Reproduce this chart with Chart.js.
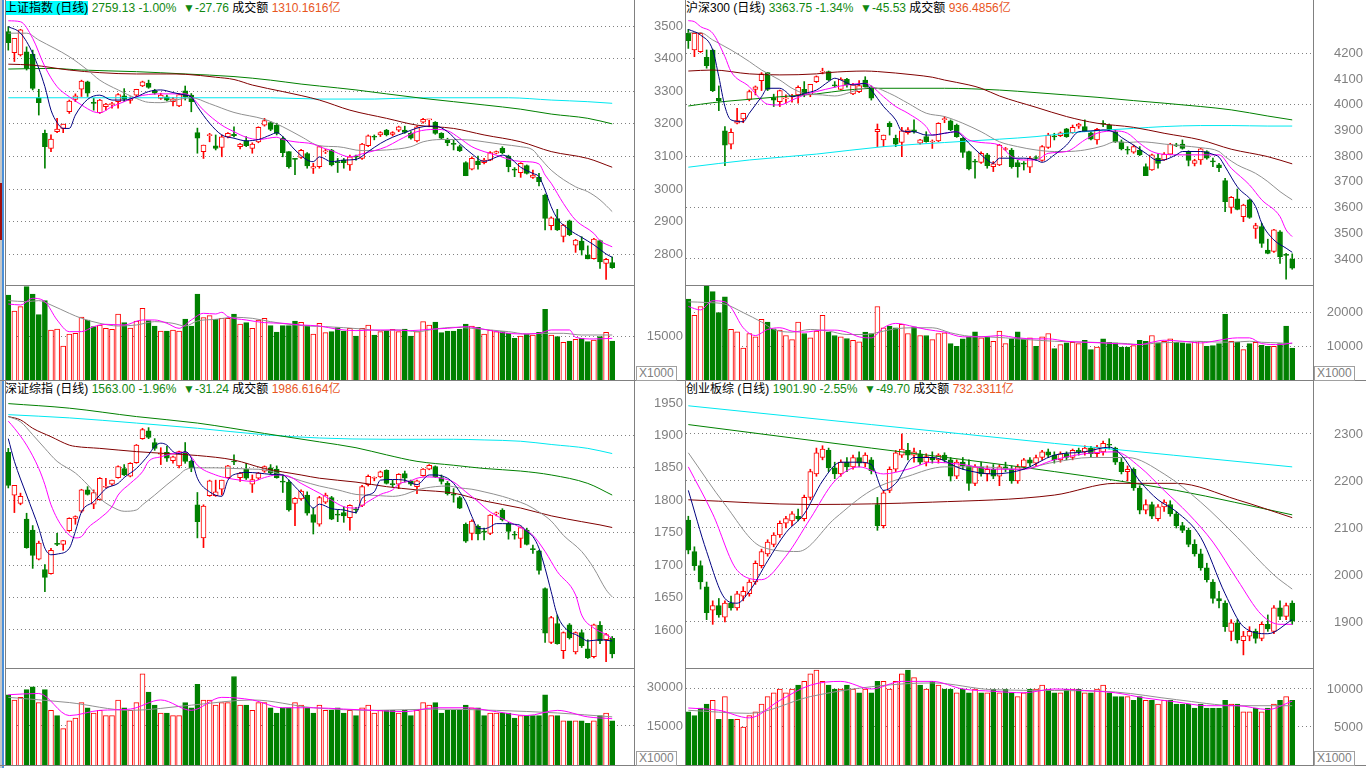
<!DOCTYPE html>
<html lang="zh-CN">
<head>
<meta charset="UTF-8">
<title>日线行情</title>
<style>
body { margin: 0; background: #fff; width: 1366px; height: 768px; overflow: hidden; position: relative;
  font-family: Arial, "Liberation Sans", "Noto Sans CJK SC", sans-serif; }
canvas { position: absolute; }
.head { position: absolute; font-size: 12px; line-height: 16px; height: 16px; white-space: nowrap; color: #000; }
.head .sel { background: #00ffff; }
.head .g { color: #118811; }
.head .o { color: #e8561e; }
.ln { position: absolute; background: #808080; }
.unit { position: absolute; border: 1px solid #a0a0a0; color: #808080; font-size: 12px; line-height: 13px; padding: 0 2px; background: #fff; }
</style>
</head>
<body>
<div class="head" style="left:5px;top:0"><span class="sel">上证指数 (日线)</span> <span class="g">2759.13 -1.00%&nbsp; ▼-27.76</span> 成交额 <span class="o">1310.1616亿</span></div>
<div class="head" style="left:686px;top:0">沪深300 (日线) <span class="g">3363.75 -1.34%&nbsp; ▼-45.53</span> 成交额 <span class="o">936.4856亿</span></div>
<div class="head" style="left:5px;top:381px">深证综指 (日线) <span class="g">1563.00 -1.96%&nbsp; ▼-31.24</span> 成交额 <span class="o">1986.6164亿</span></div>
<div class="head" style="left:686px;top:381px">创业板综 (日线) <span class="g">1901.90 -2.55%&nbsp; ▼-49.70</span> 成交额 <span class="o">732.3311亿</span></div>

<canvas id="c1p" width="681" height="268" style="left:5px;top:17px"></canvas>
<canvas id="c1v" width="681" height="94" style="left:5px;top:286px"></canvas>
<canvas id="c2p" width="680" height="268" style="left:686px;top:17px"></canvas>
<canvas id="c2v" width="680" height="94" style="left:686px;top:286px"></canvas>
<canvas id="c3p" width="681" height="271" style="left:5px;top:397px"></canvas>
<canvas id="c3v" width="681" height="96" style="left:5px;top:669px"></canvas>
<canvas id="c4p" width="680" height="271" style="left:686px;top:397px"></canvas>
<canvas id="c4v" width="680" height="96" style="left:686px;top:669px"></canvas>

<div class="ln" style="left:0;top:0;width:2px;height:768px;background:#c8c8c8"></div>
<div class="ln" style="left:2px;top:0;width:2px;height:768px;background:#4a90d9"></div>
<div class="ln" style="left:0;top:183px;width:2px;height:57px;background:#a01010"></div>
<div class="ln" style="left:5px;top:0;width:1px;height:766px"></div>
<div class="ln" style="left:634px;top:0;width:1px;height:766px"></div>
<div class="ln" style="left:685px;top:0;width:1px;height:766px"></div>
<div class="ln" style="left:1313px;top:0;width:1px;height:766px"></div>
<div class="ln" style="left:5px;top:285px;width:629px;height:1px"></div>
<div class="ln" style="left:686px;top:285px;width:627px;height:1px"></div>
<div class="ln" style="left:0;top:380px;width:1366px;height:1px"></div>
<div class="ln" style="left:5px;top:668px;width:629px;height:1px"></div>
<div class="ln" style="left:686px;top:668px;width:627px;height:1px"></div>
<div class="ln" style="left:0;top:765px;width:1366px;height:1px"></div>
<div class="unit" style="left:636px;top:366px">X1000</div>
<div class="unit" style="left:1314px;top:366px">X1000</div>
<div class="unit" style="left:636px;top:751px">X1000</div>
<div class="unit" style="left:1314px;top:751px">X1000</div>

<script src="https://cdn.jsdelivr.net/npm/chart.js@4.4.1/dist/chart.umd.min.js"></script>
<script>
// ---- 上证指数: [open, high, low, close]
const shCandles = [
[3483,3498,3426,3449],[3418,3462,3391,3462],[3411,3490,3408,3488],[3421,3436,3365,3370],[3414,3426,3304,3309],
[3280,3306,3227,3265],[3171,3181,3064,3130],[3125,3166,3115,3153],[3176,3217,3173,3184],[3186,3199,3173,3199],
[3237,3273,3232,3270],[3275,3292,3268,3286],[3306,3334,3284,3331],[3329,3331,3284,3294],[3266,3278,3242,3263],
[3234,3275,3232,3273],[3253,3263,3242,3261],[3259,3266,3248,3262],[3268,3293,3248,3290],[3286,3308,3268,3276],
[3272,3283,3263,3276],[3288,3306,3283,3306],[3316,3331,3314,3329],[3324,3334,3309,3312],[3302,3306,3291,3294],
[3278,3294,3275,3288],[3283,3288,3270,3273],[3268,3281,3255,3277],[3255,3293,3253,3290],[3301,3316,3273,3283],
[3288,3293,3237,3268],[3173,3187,3110,3156],[3115,3135,3094,3135],[3164,3171,3145,3166],[3133,3166,3120,3125],
[3128,3166,3099,3160],[3160,3173,3157,3171],[3168,3191,3160,3164],[3130,3140,3123,3138],[3148,3161,3130,3133],
[3125,3142,3110,3138],[3145,3191,3142,3189],[3196,3217,3193,3210],[3204,3207,3179,3183],[3196,3202,3166,3171],
[3156,3161,3099,3112],[3115,3115,3064,3069],[3093,3094,3044,3091],[3097,3122,3094,3119],[3109,3112,3064,3071],
[3064,3079,3048,3069],[3069,3132,3064,3130],[3114,3122,3109,3117],[3120,3122,3071,3074],[3084,3094,3051,3081],
[3089,3094,3064,3081],[3074,3104,3057,3099],[3100,3104,3089,3098],[3094,3140,3091,3138],[3133,3166,3130,3163],
[3161,3166,3151,3159],[3166,3176,3161,3173],[3181,3183,3163,3166],[3168,3176,3163,3173],[3181,3193,3176,3191],
[3181,3193,3171,3174],[3171,3176,3153,3156],[3148,3193,3145,3191],[3205,3217,3202,3214],[3212,3214,3191,3214],
[3205,3207,3168,3171],[3171,3173,3153,3156],[3150,3156,3133,3142],[3139,3150,3120,3137],[3130,3135,3115,3118],
[3081,3084,3041,3041],[3061,3099,3059,3094],[3086,3101,3061,3075],[3081,3094,3077,3089],[3089,3115,3087,3112],
[3110,3117,3108,3115],[3125,3130,3108,3112],[3101,3104,3053,3069],[3060,3066,3038,3058],[3050,3081,3036,3079],
[3072,3074,3046,3048],[3036,3058,3033,3043],[3036,3048,3010,3023],[2982,2985,2875,2910],[2888,2915,2875,2912],
[2910,2938,2873,2875],[2855,2892,2838,2890],[2903,2905,2857,2860],[2828,2846,2806,2844],[2841,2854,2798,2813],
[2798,2826,2786,2786],[2787,2849,2785,2847],[2842,2844,2757,2777],[2772,2788,2723,2785],[2775,2792,2757,2759]
];
const shVol = [29450,23900,25400,32340,29800,22640,27490,17330,17670,11780,
15940,16170,21830,20790,18480,19060,17900,17560,22870,19870,
18020,20440,24830,20560,18710,16980,16980,17330,16980,21140,
18710,29800,21600,22290,21020,21370,21370,22870,19400,19870,
17900,20790,21370,18830,16630,18830,18830,20440,19980,18830,
15940,19640,16400,16750,18130,16980,17900,15250,17900,19060,
15590,16750,17090,17560,16750,17670,15250,16750,20210,19060,
20100,16400,16980,16980,17560,19400,18710,18250,15940,17330,
16750,16750,16170,14440,15250,15940,15590,16520,24490,15590,
15020,13050,13510,14090,14440,13280,13860,15020,16520,13510];
// moving average lines: [day index, value]
const shMa5 = [[0,3498],[2,3478],[4,3416],[6,3314],[7,3242],[8,3204],[9,3186],[10,3186],[11,3227],[13,3275],[15,3288],[17,3273],[19,3273],[21,3283],[23,3299],[25,3304],[27,3296],[29,3288],[30,3283],[31,3253],[33,3202],[35,3166],[37,3156],[39,3148],[41,3152],[43,3166],[44,3173],[45,3161],[47,3120],[49,3089],[50,3084],[51,3099],[53,3084],[55,3089],[57,3091],[59,3115],[61,3140],[63,3159],[65,3173],[67,3187],[69,3193],[70,3193],[72,3176],[74,3140],[76,3108],[78,3085],[80,3098],[81,3104],[82,3099],[84,3067],[86,3048],[87,3038],[88,2997],[89,2946],[90,2910],[92,2875],[94,2852],[96,2829],[98,2801],[99,2791]];
const shMa10 = [[0,3516],[2,3513],[4,3462],[6,3375],[8,3314],[10,3283],[12,3258],[14,3237],[15,3234],[17,3253],[19,3268],[21,3283],[23,3290],[25,3292],[27,3292],[29,3292],[30,3283],[32,3242],[35,3196],[37,3176],[39,3159],[41,3152],[44,3159],[45,3152],[47,3145],[50,3138],[51,3130],[53,3118],[56,3099],[58,3108],[62,3130],[64,3150],[67,3176],[70,3183],[72,3179],[74,3156],[76,3130],[78,3115],[80,3104],[83,3087],[85,3084],[87,3077],[88,3043],[89,3018],[91,2956],[93,2905],[96,2864],[97,2842],[99,2823]];
const shMa20 = [[0,3478],[3,3478],[5,3457],[10,3406],[13,3365],[15,3334],[18,3304],[21,3278],[23,3266],[25,3265],[28,3275],[30,3280],[33,3262],[37,3235],[42,3214],[45,3191],[48,3161],[51,3133],[54,3130],[58,3118],[62,3120],[66,3130],[68,3145],[71,3152],[73,3152],[76,3150],[78,3145],[81,3137],[84,3130],[86,3120],[87,3099],[89,3058],[93,3007],[95,2992],[97,2967],[99,2931]];
const shMa60 = [[0,3383],[4,3380],[10,3365],[15,3357],[21,3353],[26,3353],[29,3352],[34,3343],[37,3336],[40,3319],[45,3299],[51,3273],[56,3242],[62,3217],[67,3196],[73,3186],[78,3166],[84,3145],[89,3115],[95,3094],[99,3067]];
const shMa120 = [[0,3368],[7,3370],[12,3365],[21,3360],[29,3353],[37,3345],[43,3334],[48,3322],[51,3316],[57,3304],[62,3292],[68,3278],[73,3268],[78,3258],[84,3245],[89,3230],[95,3217],[99,3200]];
const shMa250 = [[0,3280],[43,3280],[51,3276],[60,3276],[67,3280],[82,3280],[89,3273],[95,3268],[99,3263]];
const shVma5 = [[0,26330],[2,25990],[4,28300],[6,27140],[8,20790],[10,16750],[12,16750],[14,18480],[16,19290],[19,19060],[22,20790],[24,20790],[26,19640],[28,17900],[30,20790],[32,23100],[34,22870],[35,23450],[36,21950],[39,20790],[42,19870],[45,19640],[48,19060],[51,18710],[54,17560],[57,17100],[60,17330],[63,17330],[66,17100],[69,17560],[72,17900],[75,18480],[78,17560],[81,16400],[84,15940],[87,16170],[89,17330],[92,17330],[93,14780],[96,14210],[99,14440]];
const shVma10 = [[0,27490],[3,27140],[5,27490],[7,25990],[10,23100],[12,21370],[15,19640],[18,18710],[21,19060],[24,20210],[27,19640],[29,18710],[31,20440],[34,21020],[37,21710],[40,21370],[43,20210],[46,19290],[49,18710],[52,18480],[55,18130],[58,17670],[61,17100],[64,17330],[67,16750],[70,17670],[73,18250],[76,17900],[79,17330],[82,16750],[85,15940],[88,16170],[91,16170],[94,15590],[97,15590],[99,15590]];
const shTicks = [3500,3400,3300,3200,3100,3000,2900,2800];

// ---- 沪深300
const hsCandles = [
[4278,4293,4219,4249],[4213,4280,4187,4278],[4206,4280,4203,4278],[4184,4213,4142,4152],[4213,4216,4051,4055],
[4025,4073,3977,4016],[3898,3915,3763,3843],[3847,3906,3828,3893],[3928,3986,3925,3938],[3945,3967,3930,3967],
[4021,4057,4015,4051],[4060,4073,4038,4070],[4094,4125,4055,4120],[4125,4125,4055,4060],[4028,4041,3993,4018],
[4012,4057,3993,4055],[4023,4038,4006,4025],[4030,4040,4010,4031],[4038,4073,4006,4068],[4060,4090,4031,4038],
[4038,4079,4031,4079],[4090,4112,4086,4109],[4127,4142,4120,4129],[4129,4131,4094,4096],[4075,4090,4068,4073],
[4060,4105,4057,4100],[4099,4103,4068,4077],[4042,4083,4039,4077],[4051,4094,4047,4074],[4096,4109,4068,4070],
[4068,4073,4018,4025],[3895,3925,3837,3904],[3863,3882,3837,3882],[3928,3934,3882,3915],[3869,3882,3837,3847],
[3853,3912,3798,3898],[3891,3911,3885,3902],[3902,3941,3889,3895],[3850,3865,3847,3863],[3876,3895,3854,3856],
[3855,3863,3830,3857],[3859,3930,3856,3928],[3942,3954,3930,3944],[3937,3941,3899,3902],[3921,3925,3873,3876],
[3869,3872,3795,3814],[3818,3820,3746,3750],[3780,3788,3714,3777],[3776,3817,3772,3811],[3805,3811,3753,3763],
[3759,3779,3740,3770],[3766,3846,3763,3843],[3826,3834,3821,3828],[3824,3830,3753,3759],[3775,3785,3718,3759],
[3771,3779,3746,3769],[3757,3798,3736,3792],[3793,3801,3783,3791],[3783,3841,3780,3837],[3834,3889,3830,3882],
[3877,3889,3863,3875],[3880,3894,3876,3891],[3906,3908,3873,3876],[3891,3921,3889,3912],[3917,3928,3908,3925],
[3915,3941,3895,3899],[3891,3895,3863,3866],[3863,3908,3847,3904],[3926,3938,3915,3924],[3921,3925,3899,3904],
[3895,3902,3853,3856],[3856,3863,3824,3828],[3825,3837,3808,3823],[3815,3843,3811,3837],[3824,3837,3802,3805],
[3759,3770,3724,3724],[3746,3808,3744,3805],[3792,3808,3753,3772],[3785,3814,3783,3808],[3808,3850,3805,3847],
[3842,3850,3837,3840],[3847,3863,3827,3830],[3818,3821,3762,3783],[3772,3788,3762,3783],[3785,3831,3768,3828],
[3818,3821,3788,3792],[3780,3792,3759,3778],[3766,3772,3740,3755],[3705,3714,3584,3623],[3601,3643,3578,3640],
[3634,3672,3591,3593],[3565,3613,3545,3610],[3630,3632,3558,3562],[3519,3539,3480,3530],[3526,3539,3445,3461],
[3435,3477,3420,3422],[3429,3515,3426,3513],[3506,3510,3383,3409],[3416,3422,3321,3414],[3400,3420,3360,3364]
];
const hsVol = [24000,19200,21800,28000,26200,20000,24700,15000,14300,9500,
13800,12800,18000,17200,15200,14800,13200,12000,17200,13800,
12500,14500,19200,14200,13200,12800,12300,11800,11300,14200,
13800,21800,15500,16000,15500,16500,13800,15800,13200,13200,
12000,13800,14000,10800,10000,12200,12800,14300,12500,12800,
11500,14500,10800,12200,14300,12200,12500,10000,12800,13800,
9300,10500,11000,11200,10800,11800,9000,9800,12200,11200,
11000,9800,9800,10200,11800,11500,13200,11000,11500,12200,
11200,11000,10800,11200,11500,10000,10200,10800,19500,11500,
11200,9000,10800,11200,10300,10000,10000,10800,16000,9500];
const hsMa5 = [[0,4293],[2,4271],[4,4213],[5,4109],[6,3993],[7,3941],[9,3934],[10,3967],[12,4031],[13,4064],[15,4064],[16,4051],[17,4031],[19,4044],[21,4057],[23,4090],[24,4103],[25,4096],[27,4077],[29,4083],[30,4057],[32,3993],[34,3941],[35,3898],[37,3895],[39,3882],[40,3882],[42,3889],[44,3895],[45,3876],[46,3850],[48,3805],[49,3785],[50,3772],[51,3792],[53,3792],[55,3792],[57,3785],[58,3776],[60,3805],[62,3843],[64,3895],[66,3898],[68,3902],[70,3891],[71,3873],[73,3843],[75,3811],[77,3783],[78,3785],[80,3805],[81,3818],[84,3818],[86,3807],[87,3796],[88,3759],[90,3681],[93,3604],[94,3539],[96,3474],[98,3442],[99,3426]];
const hsMa10 = [[0,4327],[1,4323],[2,4304],[4,4278],[6,4187],[7,4129],[10,4070],[12,4018],[13,4002],[15,3999],[17,4018],[19,4038],[21,4051],[24,4068],[26,4077],[29,4083],[30,4073],[32,4031],[34,3993],[36,3967],[39,3915],[40,3882],[42,3889],[44,3895],[46,3863],[48,3853],[51,3843],[53,3798],[55,3785],[57,3785],[59,3811],[62,3818],[65,3863],[67,3889],[70,3898],[72,3889],[74,3850],[76,3818],[78,3807],[81,3805],[84,3805],[87,3805],[89,3753],[92,3688],[94,3630],[97,3565],[98,3513],[99,3487]];
const hsMa20 = [[0,4280],[2,4280],[4,4252],[7,4213],[10,4168],[12,4135],[15,4096],[17,4064],[19,4044],[22,4038],[24,4034],[26,4044],[28,4060],[30,4068],[33,4044],[36,4006],[39,3967],[42,3954],[45,3928],[48,3895],[51,3856],[54,3837],[57,3824],[60,3818],[62,3818],[65,3824],[68,3840],[70,3856],[72,3853],[74,3856],[76,3853],[78,3847],[81,3840],[84,3833],[87,3818],[88,3798],[90,3766],[93,3733],[95,3701],[97,3662],[99,3630]];
const hsMa60 = [[0,4131],[4,4135],[10,4120],[15,4116],[21,4120],[23,4125],[29,4131],[31,4129],[37,4116],[40,4107],[42,4096],[46,4077],[48,4064],[51,4034],[57,3990],[62,3954],[67,3928],[73,3912],[78,3889],[84,3863],[89,3827],[95,3798],[99,3770]];
const hsMa120 = [[0,3995],[4,4008],[10,4021],[15,4031],[21,4042],[26,4057],[31,4064],[42,4064],[51,4057],[57,4047],[62,4038],[67,4029],[73,4016],[78,4006],[84,3993],[89,3980],[95,3956],[99,3941]];
const hsMa250 = [[0,3757],[10,3785],[21,3808],[32,3837],[42,3853],[51,3866],[57,3876],[62,3889],[67,3899],[73,3908],[78,3915],[84,3919],[89,3919],[95,3917],[99,3917]];
const hsVma5 = [[0,21800],[2,20800],[4,23500],[6,23200],[7,21500],[9,15500],[11,13200],[13,15000],[15,15500],[17,14500],[19,14200],[22,14800],[24,14800],[26,14200],[28,12800],[30,12500],[32,15500],[34,16800],[37,15800],[39,15000],[42,14200],[45,12800],[48,12800],[51,13200],[54,12500],[57,12200],[59,12200],[62,11500],[65,11200],[68,11000],[71,10700],[74,10500],[76,11200],[78,11800],[81,11500],[84,11000],[87,11800],[90,12500],[92,12500],[94,10800],[97,10500],[99,11000]];
const hsVma10 = [[0,23200],[3,23000],[6,22500],[9,20000],[12,17200],[14,15000],[17,14200],[20,15000],[23,14500],[26,13500],[29,13500],[32,14500],[34,15200],[37,15500],[40,15500],[43,14000],[46,13000],[49,12800],[52,12500],[54,12200],[57,11800],[60,11500],[63,11300],[66,11200],[69,11000],[72,10800],[74,10500],[77,11000],[80,11200],[83,11500],[86,11300],[89,11200],[92,11500],[94,11200],[97,11000],[99,10800]];
const hsTicks = [4200,4100,4000,3900,3800,3700,3600,3500,3400];
const hsGrid = [4200,4000,3800,3600,3400];

// ---- 深证综指
const szCandles = [
[1874,1880,1819,1823],[1808,1823,1781,1823],[1795,1811,1793,1806],[1771,1780,1726,1727],[1754,1761,1695,1715],
[1709,1737,1708,1734],[1693,1701,1659,1681],[1687,1726,1686,1723],[1733,1749,1730,1732],[1732,1738,1723,1738],
[1753,1773,1752,1772],[1772,1776,1763,1775],[1783,1817,1781,1816],[1816,1821,1808,1809],[1794,1816,1787,1812],
[1801,1835,1800,1834],[1820,1834,1819,1821],[1825,1831,1823,1831],[1835,1853,1834,1852],[1849,1855,1838,1839],
[1837,1858,1836,1857],[1858,1886,1857,1885],[1895,1911,1894,1909],[1907,1912,1895,1897],[1889,1895,1877,1880],
[1871,1881,1855,1872],[1874,1883,1860,1865],[1861,1868,1857,1867],[1853,1876,1850,1875],[1874,1889,1857,1860],
[1860,1862,1844,1850],[1793,1812,1742,1767],[1742,1793,1727,1791],[1807,1831,1806,1830],[1807,1831,1806,1813],
[1817,1831,1808,1831],[1835,1854,1834,1853],[1860,1870,1855,1859],[1835,1843,1829,1842],[1848,1857,1832,1834],
[1825,1839,1812,1832],[1834,1843,1832,1842],[1845,1853,1843,1852],[1850,1855,1840,1842],[1848,1853,1834,1835],
[1829,1839,1812,1828],[1828,1831,1783,1785],[1795,1804,1761,1803],[1802,1816,1800,1814],[1808,1813,1777,1780],
[1778,1788,1748,1766],[1763,1806,1760,1804],[1797,1811,1795,1808],[1804,1806,1770,1771],[1778,1785,1767,1777],
[1781,1790,1766,1776],[1773,1793,1754,1792],[1786,1789,1780,1785],[1792,1823,1790,1821],[1824,1839,1822,1837],
[1834,1836,1830,1835],[1836,1845,1835,1844],[1846,1847,1825,1826],[1825,1831,1821,1824],[1825,1841,1818,1840],
[1841,1845,1828,1834],[1830,1831,1823,1825],[1821,1831,1810,1830],[1838,1849,1837,1848],[1848,1855,1847,1854],
[1852,1853,1835,1836],[1835,1839,1825,1829],[1826,1829,1808,1810],[1809,1818,1797,1808],[1804,1806,1787,1788],
[1763,1765,1735,1737],[1749,1770,1739,1768],[1760,1762,1739,1748],[1752,1757,1739,1751],[1749,1778,1747,1777],
[1779,1782,1776,1780],[1785,1787,1768,1770],[1764,1766,1740,1752],[1747,1752,1740,1746],[1741,1759,1727,1758],
[1754,1757,1731,1732],[1725,1731,1718,1724],[1722,1723,1686,1692],[1664,1665,1581,1595],[1581,1621,1579,1619],
[1610,1623,1578,1579],[1568,1597,1556,1596],[1608,1610,1586,1588],[1566,1597,1563,1596],[1596,1600,1573,1576],
[1571,1585,1556,1557],[1559,1609,1557,1608],[1607,1613,1579,1583],[1585,1595,1551,1593],[1587,1590,1557,1563]
];
const szVol = [27000,25000,26000,29000,30000,24000,29000,21000,19000,14000,
17000,18000,24000,22000,20000,21000,19000,19000,25000,22000,
21000,24000,35000,28000,23000,20000,20000,19000,19000,24000,
22000,31000,25000,25000,23000,24000,24000,34000,23000,23000,
21000,24000,24000,22000,20000,22000,22000,24000,23000,22000,
20000,23000,21000,21000,22000,20000,21000,19000,22000,23000,
20000,21000,21000,21000,20000,21000,19000,21000,24000,23000,
24000,20000,21000,21000,21000,23000,22000,22000,19000,20000,
20000,20000,20000,18000,19000,19000,19000,19000,27000,19000,
19000,17000,17000,17000,17000,16000,17000,19000,20000,17000];
const szMa5 = [[0,1895],[1,1860],[3,1808],[5,1757],[6,1726],[7,1716],[8,1717],[10,1726],[11,1752],[12,1782],[14,1798],[15,1808],[16,1818],[18,1826],[19,1835],[21,1849],[23,1870],[24,1883],[25,1888],[26,1885],[27,1875],[28,1872],[29,1875],[30,1865],[31,1834],[33,1813],[35,1806],[36,1831],[38,1842],[39,1843],[41,1842],[43,1840],[45,1839],[46,1831],[47,1821],[48,1811],[49,1798],[50,1788],[51,1794],[53,1787],[55,1785],[57,1781],[58,1803],[60,1813],[61,1831],[63,1832],[65,1831],[67,1824],[69,1839],[70,1839],[72,1834],[73,1826],[74,1813],[75,1798],[76,1775],[77,1757],[78,1756],[79,1759],[80,1764],[81,1764],[83,1763],[84,1761],[85,1752],[86,1744],[87,1726],[88,1695],[89,1659],[90,1623],[92,1597],[93,1593],[94,1588],[95,1583],[97,1585],[99,1583]];
const szMa10 = [[0,1922],[1,1911],[3,1885],[5,1849],[6,1824],[7,1793],[9,1757],[11,1742],[12,1744],[13,1757],[15,1772],[17,1790],[18,1808],[20,1826],[22,1844],[23,1860],[25,1867],[27,1872],[29,1874],[30,1867],[31,1854],[34,1839],[36,1834],[38,1831],[40,1829],[42,1835],[44,1839],[46,1837],[48,1826],[50,1816],[51,1811],[53,1800],[55,1790],[57,1788],[59,1798],[61,1809],[63,1816],[64,1825],[66,1830],[67,1834],[69,1836],[71,1834],[73,1828],[75,1813],[77,1798],[79,1782],[82,1767],[84,1758],[86,1746],[88,1721],[90,1690],[93,1654],[94,1623],[96,1603],[98,1593],[99,1587]];
const szMa20 = [[0,1929],[2,1921],[4,1901],[6,1880],[8,1860],[11,1842],[13,1824],[15,1803],[17,1790],[19,1783],[21,1785],[22,1793],[24,1808],[26,1824],[28,1839],[29,1847],[31,1850],[34,1850],[37,1849],[40,1848],[42,1847],[45,1839],[48,1830],[51,1822],[54,1816],[57,1809],[59,1808],[61,1807],[63,1806],[65,1809],[67,1816],[70,1821],[72,1822],[74,1819],[76,1817],[78,1813],[81,1806],[83,1800],[85,1793],[87,1782],[89,1768],[91,1746],[94,1721],[96,1695],[98,1662],[99,1651]];
const szMa60 = [[0,1929],[2,1924],[4,1911],[7,1898],[10,1885],[11,1883],[15,1880],[21,1875],[26,1872],[31,1869],[37,1862],[42,1849],[48,1839],[51,1834],[57,1828],[62,1821],[67,1816],[73,1811],[78,1799],[84,1788],[89,1776],[94,1767],[97,1762],[99,1758]];
const szMa120 = [[0,1949],[10,1942],[21,1929],[31,1919],[42,1903],[51,1890],[57,1881],[62,1870],[67,1860],[73,1854],[78,1849],[84,1845],[89,1839],[95,1826],[99,1808]];
const szMa250 = [[0,1932],[10,1927],[21,1919],[31,1911],[42,1901],[51,1896],[62,1894],[73,1894],[78,1893],[84,1891],[89,1886],[95,1880],[99,1872]];
const szVma5 = [[0,27000],[5,27500],[10,19000],[15,21000],[20,21500],[25,25000],[30,21000],[35,26000],[40,25000],[45,22000],[50,22000],[55,21500],[60,21000],[65,20500],[70,22000],[75,22000],[80,20500],[85,19000],[90,21000],[95,18500],[99,17800]];
const szVma10 = [[0,26000],[10,24000],[20,21000],[30,23000],[40,25000],[50,22000],[60,21000],[70,21500],[80,21000],[90,20000],[99,18500]];
const szTicks = [1950,1900,1850,1800,1750,1700,1650,1600];
const szGrid = [1900,1850,1800,1750,1700,1650,1600];

// ---- 创业板综
const cyCandles = [
[2117,2125,2045,2053],[2050,2060,2010,2020],[2020,2030,1970,1985],[1975,1985,1905,1920],[1925,1945,1895,1935],
[1935,1950,1910,1915],[1910,1945,1900,1940],[1940,1955,1925,1930],[1930,1965,1925,1960],[1955,1975,1945,1965],
[1960,1990,1955,1985],[1985,2030,1980,2025],[2020,2055,2015,2050],[2045,2075,2040,2070],[2065,2090,2060,2085],
[2085,2115,2080,2110],[2110,2125,2100,2120],[2115,2135,2105,2130],[2125,2140,2115,2120],[2120,2170,2115,2165],
[2165,2225,2160,2220],[2215,2270,2210,2260],[2250,2275,2245,2268],[2265,2270,2220,2228],[2228,2240,2205,2215],
[2215,2245,2210,2240],[2240,2250,2220,2230],[2230,2255,2225,2250],[2250,2262,2230,2238],[2238,2260,2230,2255],
[2245,2250,2215,2222],[2150,2165,2095,2105],[2105,2180,2100,2175],[2180,2230,2175,2225],[2225,2265,2220,2260],
[2255,2300,2250,2268],[2265,2280,2245,2255],[2255,2270,2240,2262],[2258,2265,2235,2240],[2240,2258,2232,2252],
[2250,2262,2238,2245],[2245,2258,2238,2255],[2255,2260,2240,2245],[2245,2250,2200,2210],[2210,2245,2205,2240],
[2240,2250,2225,2232],[2232,2245,2180,2195],[2195,2235,2190,2230],[2230,2240,2210,2215],[2215,2232,2200,2225],
[2225,2235,2205,2210],[2210,2235,2190,2230],[2230,2240,2220,2225],[2225,2232,2195,2200],[2200,2235,2195,2230],
[2230,2248,2225,2245],[2245,2250,2232,2238],[2238,2255,2232,2250],[2250,2265,2245,2262],[2262,2268,2250,2255],
[2255,2262,2238,2245],[2245,2262,2240,2258],[2258,2262,2245,2250],[2250,2268,2245,2265],[2265,2270,2255,2262],
[2262,2275,2255,2270],[2270,2274,2250,2258],[2258,2276,2252,2272],[2262,2285,2255,2280],[2278,2290,2268,2276],
[2270,2272,2235,2240],[2240,2248,2215,2220],[2220,2232,2200,2225],[2225,2228,2180,2185],[2185,2190,2130,2138],
[2138,2160,2130,2150],[2150,2155,2120,2125],[2120,2150,2115,2145],[2145,2160,2135,2155],[2150,2158,2125,2130],
[2130,2135,2100,2105],[2105,2112,2090,2095],[2095,2100,2060,2065],[2065,2075,2040,2045],[2045,2055,2010,2015],
[2015,2025,1985,1990],[1985,1990,1940,1950],[1950,1965,1930,1945],[1940,1945,1880,1890],[1880,1905,1860,1898],
[1898,1905,1855,1862],[1860,1880,1830,1870],[1870,1890,1860,1880],[1880,1885,1855,1865],[1865,1900,1860,1895],
[1895,1915,1880,1885],[1880,1935,1875,1930],[1930,1945,1905,1912],[1912,1940,1905,1935],[1940,1945,1895,1902]
];
const cyVol = [7000,6500,7500,8000,8500,6000,9000,6000,6000,5000,
6500,7000,8000,9000,9500,10000,9500,10000,10500,11000,
12000,12500,11000,10500,10000,10000,10500,10000,9500,10000,
9500,11000,11000,10000,11000,12000,12500,11500,10500,10000,
11000,10500,10000,10000,9500,10000,9500,10000,9500,9500,
10000,9500,10000,9500,9000,9500,10000,10000,10500,10000,
9500,9500,10000,10000,10000,9500,9500,10000,10500,9500,
9000,9000,9000,8500,9000,8500,8500,8000,8500,8500,
8000,8000,8000,7500,8000,7500,7500,7500,8500,8000,
8000,7000,7000,7500,7000,7500,8000,8500,9000,8500];
const cyMa5 = [[0,2180],[3,2050],[6,1950],[8,1940],[10,1965],[13,2030],[16,2090],[19,2130],[22,2200],[25,2240],[28,2240],[30,2235],[32,2180],[34,2195],[37,2250],[40,2250],[45,2225],[50,2215],[55,2225],[60,2255],[65,2262],[69,2272],[71,2255],[74,2200],[77,2160],[80,2135],[84,2080],[88,1960],[91,1890],[95,1875],[99,1905]];
const cyMa10 = [[0,2230],[4,2130],[8,2010],[12,1990],[16,2040],[20,2120],[24,2200],[28,2230],[32,2215],[36,2225],[40,2240],[45,2235],[50,2225],[55,2225],[60,2245],[65,2258],[70,2262],[74,2230],[78,2180],[82,2130],[86,2070],[90,1990],[94,1915],[97,1895],[99,1895]];
const cyMa20 = [[0,2260],[6,2150],[12,2060],[18,2050],[24,2120],[30,2180],[36,2210],[42,2230],[48,2230],[54,2225],[60,2240],[66,2250],[72,2250],[78,2215],[84,2155],[90,2080],[96,2000],[99,1970]];
const cyMa60 = [[0,2160],[20,2150],[40,2155],[60,2170],[70,2195],[80,2195],[90,2160],[99,2122]];
const cyMa120 = [[0,2320],[30,2270],[60,2220],[80,2180],[99,2128]];
const cyMa250 = [[0,2360],[30,2320],[60,2280],[99,2230]];
const cyVma5 = [[0,7500],[5,7200],[10,6200],[15,8500],[20,10500],[25,11000],[30,10000],[35,11000],[40,11000],[45,10000],[50,9700],[55,9500],[60,10000],[65,9800],[70,9500],[75,8800],[80,8300],[85,7800],[90,7800],[95,7300],[99,8400]];
const cyVma10 = [[0,7200],[10,6800],[20,9000],[30,10300],[40,10800],[50,9900],[60,9800],[70,9600],[80,8600],[90,7800],[99,7800]];
const cyTicks = [2300,2200,2100,2000,1900];

const RED = '#ff0000', GREEN = '#008000';
const MA_COLORS = ['#000080', '#ff00ff', '#909090', '#800000', '#008000', '#00e8f0'];

const sideLabels = {
  id: 'sideLabels',
  afterDraw(chart, args, opts) {
    const ctx = chart.ctx, y = chart.scales.y;
    ctx.save();
    ctx.font = '13px Arial, "Liberation Sans", sans-serif';
    ctx.fillStyle = '#808080';
    ctx.textAlign = 'right';
    ctx.textBaseline = 'middle';
    opts.values.forEach(v => ctx.fillText(String(v), chart.width - 3, y.getPixelForValue(v)));
    ctx.restore();
  }
};

function line(pairs, color) {
  return { type: 'line', data: pairs.map(p => ({ x: p[0], y: p[1] })), borderColor: color, borderWidth: 1,
    pointRadius: 0, cubicInterpolationMode: 'monotone', order: 0 };
}

function makeChart(id, datasets, yMin, yMax, left, labels, grid) {
  const axisW = left ? 52 : 53;
  const xMin = left ? -0.54 : -0.38;
  const xMax = xMin + (left ? 629 : 627) / 6.1;
  new Chart(document.getElementById(id), {
    type: 'bar',
    data: { datasets },
    options: {
      responsive: false, animation: false, events: [],
      layout: { padding: 0 },
      plugins: { legend: { display: false }, tooltip: { enabled: false }, sideLabels: { values: labels } },
      scales: {
        x: { type: 'linear', min: xMin, max: xMax, display: false, offset: false },
        y: { type: 'linear', position: 'right', min: yMin, max: yMax,
          afterFit: s => { s.width = axisW; },
          afterBuildTicks: s => { s.ticks = grid.map(v => ({ value: v })); },
          ticks: { display: false },
          grid: { color: '#808080', lineWidth: 1, drawTicks: false },
          border: { display: false, dash: [1, 3] } }
      }
    },
    plugins: [sideLabels]
  });
}

function pricePanel(id, candles, mas, yMin, yMax, left, labels, grid) {
  const up = candles.map(c => c[3] >= c[0]);
  const col = up.map(u => u ? RED : GREEN);
  const sets = [
    { type: 'bar', data: candles.map((c, i) => ({ x: i, y: [c[2], c[1]] })), backgroundColor: col,
      borderWidth: 0, barThickness: 1, grouped: false, order: 3 },
    { type: 'bar', data: candles.map((c, i) => ({ x: i, y: [c[0], c[3]] })),
      backgroundColor: up.map(u => u ? '#ffffff' : GREEN), borderColor: col, borderWidth: 1,
      borderSkipped: false, barThickness: 5, minBarLength: 1, grouped: false, order: 2 }
  ];
  mas.forEach((m, k) => sets.push(line(m, MA_COLORS[k])));
  makeChart(id, sets, yMin, yMax, left, labels, grid);
}

function volumePanel(id, candles, vol, vma5, vma10, yMax, left, labels) {
  const up = candles.map(c => c[3] >= c[0]);
  const sets = [
    { type: 'bar', data: vol.map((v, i) => ({ x: i, y: v })),
      backgroundColor: up.map(u => u ? '#ffffff' : GREEN), borderColor: up.map(u => u ? RED : GREEN),
      borderWidth: 1, barThickness: 5, grouped: false, order: 2 },
    line(vma5, '#ff00ff'),
    line(vma10, '#909090')
  ];
  makeChart(id, sets, 0, yMax, left, labels, labels);
}

pricePanel('c1p', shCandles, [shMa5, shMa10, shMa20, shMa60, shMa120, shMa250], 2706, 3527.6, true, shTicks, shTicks);
volumePanel('c1v', shCandles, shVol, shVma5, shVma10, 32560, true, [15000]);
pricePanel('c2p', hsCandles, [hsMa5, hsMa10, hsMa20, hsMa60, hsMa120, hsMa250], 3298.8, 4341.2, false, hsTicks, hsGrid);
volumePanel('c2v', hsCandles, hsVol, hsVma5, hsVma10, 27890, false, [20000, 10000]);
pricePanel('c3p', szCandles, [szMa5, szMa10, szMa20, szMa60, szMa120, szMa250], 1541.4, 1959.2, true, szTicks, szGrid);
volumePanel('c3v', szCandles, szVol, szVma5, szVma10, 36900, true, [30000, 15000]);
pricePanel('c4p', cyCandles, [cyMa5, cyMa10, cyMa20, cyMa60, cyMa120, cyMa250], 1802.1, 2378.7, false, cyTicks, cyTicks);
volumePanel('c4v', cyCandles, cyVol, cyVma5, cyVma10, 12630, false, [10000, 5000]);
</script>
</body>
</html>
